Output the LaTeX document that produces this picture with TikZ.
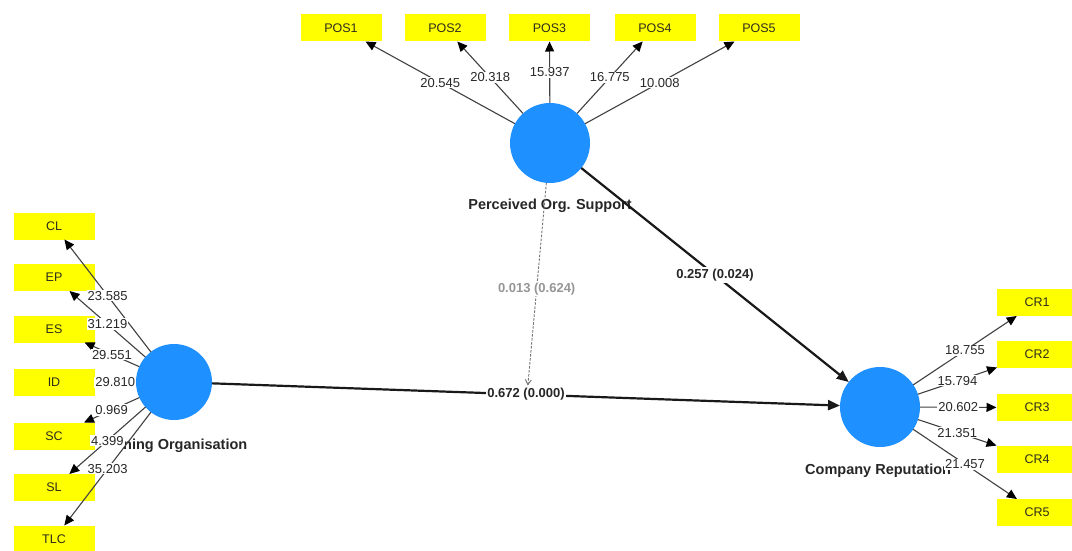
\documentclass[tikz,border=0pt]{standalone}
\usepackage{fontspec}
\setmainfont{Liberation Sans}
\usetikzlibrary{arrows.meta,calc}
\definecolor{lvblue}{RGB}{30,144,255}
\definecolor{indyellow}{RGB}{255,255,0}
\definecolor{indtext}{RGB}{45,45,30}
\definecolor{numtext}{RGB}{40,40,40}
\definecolor{weak}{RGB}{150,150,150}
\begin{document}
\begin{tikzpicture}[x=1pt,y=-1pt,
  latent/.style={circle,fill=lvblue,inner sep=0pt,outer sep=0pt,minimum size=80pt},
  indbox/.style={rectangle,fill=indyellow,inner sep=0pt,outer sep=0pt,
    minimum width=81pt,minimum height=27pt,text=indtext,
    font=\fontsize{12.5}{14}\selectfont},
  lvname/.style={font=\bfseries\fontsize{14.5}{16}\selectfont,text=black!85,inner sep=0pt},
  load/.style={draw=black!75,line width=1.1pt,-{Triangle[length=10pt,width=9pt,color=black]}},
  num/.style={fill=white,inner sep=1pt,text=numtext,font=\fontsize{13}{15}\selectfont},
  struct/.style={draw=black!90,line width=2.2pt,-{Triangle[length=12pt,width=10pt]}},
  coef/.style={fill=white,inner sep=1.5pt,text=black!85,font=\bfseries\fontsize{13}{15}\selectfont},
  modline/.style={draw=black!55,line width=0.9pt,dash pattern=on 2.5pt off 1.5pt,
    -{Straight Barb[length=5pt,width=6pt]},shorten >=9pt},
  modcoef/.style={fill=white,inner sep=1.5pt,text=weak,font=\bfseries\fontsize{13}{15}\selectfont}
]
\useasboundingbox (0,0) rectangle (1072,551);

% latent variables
\node[latent] (POS) at (550,143) {};
\node[latent,minimum size=76pt] (LO) at (174,382) {};
\node[latent] (CR) at (880,407) {};

% latent variable names
\node[lvname] (POSname) at (550,206) {Perceived Org. Support};
\node[lvname,anchor=west] (LOname) at (123,446) {ning Organisation};
\node[lvname,anchor=west] (CRname) at (805,471) {Company Reputation};

% indicators of Perceived Org. Support
\node[indbox] (POS1) at (341,28) {POS1};
\node[indbox] (POS2) at (445,28) {POS2};
\node[indbox] (POS3) at (549.5,28) {POS3};
\node[indbox] (POS4) at (655,28) {POS4};
\node[indbox] (POS5) at (759,28) {POS5};

% indicators of Learning Organisation
\begin{scope}[every node/.append style={minimum width=82pt,minimum height=28pt}]
\node[indbox] (CL)  at (54,226)   {CL};
\node[indbox] (EP)  at (54,277.5) {EP};
\node[indbox] (ES)  at (54,329)   {ES};
\node[indbox] (ID)  at (54,382.5) {ID};
\node[indbox] (SC)  at (54,436)   {SC};
\node[indbox] (SL)  at (54,487.5) {SL};
\node[indbox] (TLC) at (54,539)   {TLC};
\end{scope}

% indicators of Company Reputation
\begin{scope}[every node/.append style={minimum width=80pt,minimum height=28pt}]
\node[indbox] (CR1) at (1037,302.5) {CR1};
\node[indbox] (CR2) at (1037,354)   {CR2};
\node[indbox] (CR3) at (1037,407.5) {CR3};
\node[indbox] (CR4) at (1037,459)   {CR4};
\node[indbox] (CR5) at (1037,512.5) {CR5};
\end{scope}

% outer loadings (t values)
\draw[load] (POS) -- node[num]{20.545} (POS1);
\draw[load] (POS) -- node[num]{20.318} (POS2);
\draw[load] (POS) -- node[num]{15.937} (POS3);
\draw[load] (POS) -- node[num]{16.775} (POS4);
\draw[load] (POS) -- node[num]{10.008} (POS5);

\draw[load] (LO) -- node[num]{23.585} (CL);
\draw[load] (LO) -- node[num]{31.219} (EP);
\draw[load] (LO) -- node[num]{29.551} (ES);
\draw[load] (LO) -- node[num]{29.810} (ID);
\draw[load] (LO) -- node[num]{0.969}  (SC);
\draw[load] (LO) -- node[num]{4.399}  (SL);
\draw[load] (LO) -- node[num]{35.203} (TLC);

\draw[load] (CR) -- node[num]{18.755} (CR1);
\draw[load] (CR) -- node[num]{15.794} (CR2);
\draw[load] (CR) -- node[num]{20.602} (CR3);
\draw[load] (CR) -- node[num]{21.351} (CR4);
\draw[load] (CR) -- node[num]{21.457} (CR5);

% structural paths
\coordinate (mod) at ($(LO)!0.5!(CR)$);
\draw[modline] (POS) -- node[modcoef]{0.013 (0.624)} (mod);
\draw[struct] (POS) -- node[coef]{0.257 (0.024)} (CR);
\draw[struct] (LO) -- node[coef]{0.672 (0.000)} (CR);
\end{tikzpicture}
\end{document}
